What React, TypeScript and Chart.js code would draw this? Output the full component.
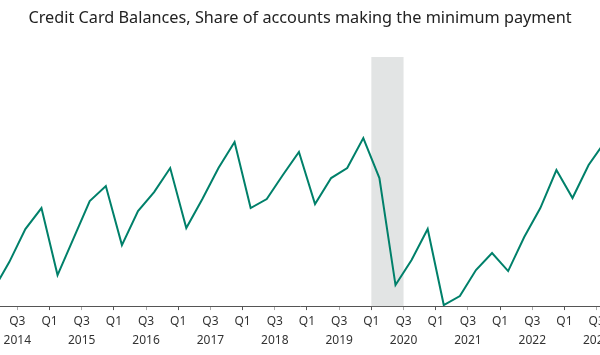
import React, { useEffect, useRef } from "react";
import { Chart, registerables } from "chart.js";

Chart.register(...registerables);

const TITLE = "Credit Card Balances, Share of accounts making the minimum payment";

// Quarterly observations, 2014 Q1 – 2023 Q3 (share of accounts, %)
const years = [2014, 2015, 2016, 2017, 2018, 2019, 2020, 2021, 2022, 2023];
const quarters = [
  "2014Q1", "2014Q2", "2014Q3", "2014Q4",
  "2015Q1", "2015Q2", "2015Q3", "2015Q4",
  "2016Q1", "2016Q2", "2016Q3", "2016Q4",
  "2017Q1", "2017Q2", "2017Q3", "2017Q4",
  "2018Q1", "2018Q2", "2018Q3", "2018Q4",
  "2019Q1", "2019Q2", "2019Q3", "2019Q4",
  "2020Q1", "2020Q2", "2020Q3", "2020Q4",
  "2021Q1", "2021Q2", "2021Q3", "2021Q4",
  "2022Q1", "2022Q2", "2022Q3", "2022Q4",
  "2023Q1", "2023Q2", "2023Q3",
];
const shareMinPayment = [
  8.96, 9.24, 9.57, 9.78,
  9.11, 9.48, 9.85, 10.0,
  9.41, 9.75, 9.94, 10.18,
  9.58, 9.87, 10.18, 10.44,
  9.78, 9.87, 10.11, 10.34,
  9.82, 10.08, 10.18, 10.48,
  10.08, 9.01, 9.26, 9.57,
  8.81, 8.9, 9.16, 9.33,
  9.15, 9.49, 9.78, 10.16,
  9.88, 10.21, 10.44,
];
// Recession shading (start, end) in decimal years
const recessionStart = [2020.0];
const recessionEnd = [2020.5];

const X_MIN = 2014.231;
const X_MAX = 2023.552;
const Y_MIN = 8.8;
const Y_MAX = 11.29;
const SIDE = 40;

function quarterToX(q: string): number {
  const y = parseInt(q.slice(0, 4), 10);
  const n = parseInt(q.slice(5), 10);
  return y + (n - 1) / 4 + 0.125;
}

const recessionPlugin = {
  id: "recessionBand",
  beforeDatasetsDraw(chart: any) {
    const { ctx, chartArea, scales } = chart;
    const xs = scales.x;
    ctx.save();
    ctx.fillStyle = "#e2e4e4";
    for (let i = 0; i < recessionStart.length; i++) {
      const x0 = xs.getPixelForValue(recessionStart[i]);
      const x1 = xs.getPixelForValue(recessionEnd[i]);
      ctx.fillRect(x0, chartArea.top, x1 - x0, chartArea.bottom - chartArea.top);
    }
    ctx.restore();
  },
};

export default function App() {
  const ref = useRef<HTMLCanvasElement | null>(null);
  useEffect(() => {
    if (!ref.current) return;
    const points = quarters.map((q, i) => ({ x: quarterToX(q), y: shareMinPayment[i] }));
    const chart = new Chart(ref.current, {
      type: "line",
      data: {
        datasets: [
          {
            data: points,
            borderColor: "#00806a",
            borderWidth: 2,
            pointRadius: 0,
            tension: 0,
            fill: false,
          },
        ],
      },
      plugins: [recessionPlugin],
      options: {
        animation: false,
        responsive: false,
        layout: { padding: { left: SIDE, right: SIDE, top: 0, bottom: 3 } },
        plugins: {
          legend: { display: false },
          tooltip: { enabled: false },
          title: {
            display: true,
            text: TITLE,
            color: "#222",
            font: { family: "'Noto Sans', 'Open Sans', sans-serif", size: 16.25, weight: "normal" },
            padding: { top: 8.5, bottom: 29 },
          },
        },
        scales: {
          x: {
            type: "linear",
            min: X_MIN,
            max: X_MAX,
            afterBuildTicks: (scale: any) => {
              const t: { value: number }[] = [];
              years.forEach((y) => {
                [y, y + 0.5].forEach((v) => {
                  if (v >= X_MIN && v <= X_MAX) t.push({ value: v });
                });
              });
              scale.ticks = t;
            },
            border: { display: true, color: "#555", width: 1 },
            grid: {
              drawOnChartArea: false,
              drawTicks: true,
              tickLength: 4,
              tickColor: (c: any) => (c.tick && c.tick.value % 1 === 0 ? "#555" : "#aaa"),
            },
            ticks: {
              autoSkip: false,
              maxRotation: 0,
              padding: 2,
              color: "#333",
              font: { family: "'Noto Sans', 'Open Sans', sans-serif", size: 12, lineHeight: 1.58 },
              callback: (v: any) => {
                const val = Number(v);
                const yr = Math.floor(val + 1e-6);
                if (Math.abs(val - yr - 0.5) < 1e-6) return ["Q3", String(yr)];
                return "Q1";
              },
            },
          },
          y: {
            display: false,
            min: Y_MIN,
            max: Y_MAX,
          },
        },
      },
    });
    return () => chart.destroy();
  }, []);
  return (
    <div style={{ position: "fixed", left: 0, top: 0, width: 600, height: 355, overflow: "hidden", background: "#fff" }}>
      <canvas
        ref={ref}
        width={600 + 2 * SIDE}
        height={355}
        style={{ position: "absolute", left: -SIDE, top: 0, width: 600 + 2 * SIDE, height: 355 }}
      />
    </div>
  );
}
